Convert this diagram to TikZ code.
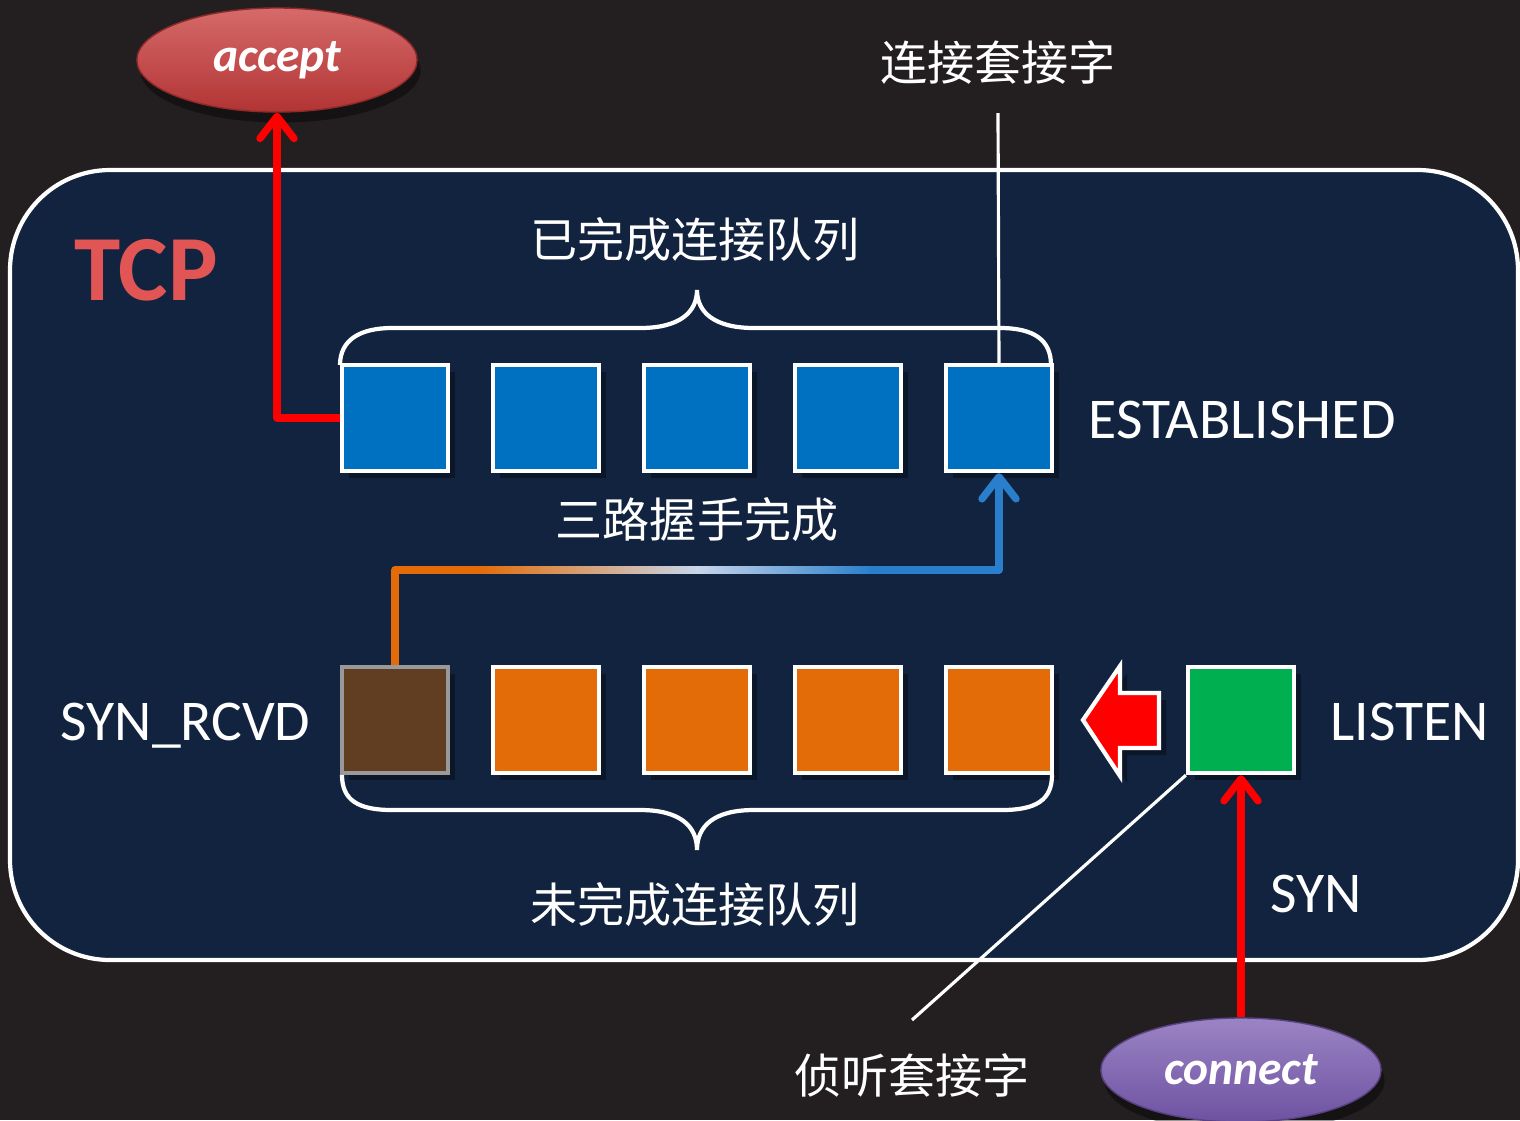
\documentclass[tikz,border=0pt]{standalone}
\usepackage{fontspec}
\setmainfont{Carlito}
\newfontfamily\cjk{Noto Sans CJK SC}
\usetikzlibrary{arrows.meta,shapes.geometric,shadows}
\definecolor{bgc}{HTML}{231F20}
\definecolor{boxc}{HTML}{11233F}
\definecolor{qblue}{HTML}{0070C0}
\definecolor{qorange}{HTML}{E36C09}
\definecolor{qbrown}{HTML}{613D22}
\definecolor{qgreen}{HTML}{00B050}
\definecolor{lineblue}{HTML}{2A7FCC}
\definecolor{midlight}{HTML}{C8D6EA}
\definecolor{tcpred}{HTML}{E25555}
\definecolor{acctop}{HTML}{D66A6A}
\definecolor{accbot}{HTML}{B23434}
\definecolor{contop}{HTML}{9B84C4}
\definecolor{conbot}{HTML}{6E52A2}
\tikzset{
  sq/.style={draw=white, line width=1.2pt, minimum size=1.06cm, inner sep=0pt,
             drop shadow={fill=black, opacity=0.35, shadow xshift=2pt, shadow yshift=-2pt}},
  lbl/.style={text=white, font=\fontsize{16.4}{18}\selectfont, inner sep=0pt},
  cjklbl/.style={text=white, font=\cjk\fontsize{13.4}{15}\selectfont, inner sep=0pt},
  brace/.style={draw=white, line width=1.2pt},
  thinw/.style={draw=white, line width=0.9pt},
  barb/.style={-{Straight Barb[length=0.22cm,width=0.34cm,line cap=round,line join=round]}},
  redarr/.style={draw=red, line width=2.1pt, line join=round, barb},
  blobarr/.style={line width=2.1pt},
  oval/.style={ellipse, minimum width=2.8cm, minimum height=1.04cm, inner sep=0pt,
     text=white, font=\bfseries\itshape\fontsize{13.5}{15}\selectfont,
     drop shadow={fill=black, opacity=0.4, shadow xshift=1pt, shadow yshift=-3pt}}
}
\begin{document}
\begin{tikzpicture}[x=0.01cm,y=-0.01cm]
\useasboundingbox (0,0) rectangle (1520,1120);
\fill[bgc] (0,0) rectangle (1520,1120);
% TCP box
\draw[white, line width=1.2pt, fill=boxc, rounded corners=1.0cm] (10,170) rectangle (1518,960);
\node[anchor=base west, inner sep=0pt, text=tcpred, font=\bfseries\fontsize{26.5}{29}\selectfont] (tcp) at (74,300) {TCP};
% ellipses
\node[oval, top color=acctop, bottom color=accbot, draw=accbot!80!black, line width=0.4pt] (accept) at (277,60) {accept};
\node[oval, top color=contop, bottom color=conbot, draw=conbot!80!black, line width=0.4pt] (connect) at (1241,1070) {connect};
% top queue
\foreach \i/\x in {1/395,2/546,3/697,4/848,5/999}{
  \node[sq, fill=qblue] (b\i) at (\x,418) {};
}
\node[sq, fill=qbrown, draw=gray!80] (o1) at (395,720) {};
\foreach \i/\x in {2/546,3/697,4/848,5/999}{
  \node[sq, fill=qorange] (o\i) at (\x,720) {};
}
\node[sq, fill=qgreen] (g) at (1241,720) {};
% braces
\draw[brace] (340,365) .. controls (340,340) and (360,328) .. (392,328) -- (640,328)
  .. controls (680,328) and (697,312) .. (697,290)
  .. controls (697,312) and (714,328) .. (754,328) -- (1000,328)
  .. controls (1034,328) and (1051,340) .. (1051,365);
\draw[brace] (342,775) .. controls (342,800) and (358,810) .. (392,810) -- (640,810)
  .. controls (680,810) and (697,826) .. (697,850)
  .. controls (697,826) and (714,810) .. (754,810) -- (1002,810)
  .. controls (1036,810) and (1052,800) .. (1052,775);
% labels
\node[cjklbl] (l1) at (695,240) {已完成连接队列};
\node[cjklbl] (l2) at (998,62) {连接套接字};
\node[cjklbl] (l3) at (697,520) {三路握手完成};
\node[cjklbl] (l4) at (695,905) {未完成连接队列};
\node[cjklbl] (l5) at (912,1075) {侦听套接字};
\node[lbl, anchor=base west] (est) at (1088,438) {ESTABLISHED};
\node[lbl, anchor=base west] (rcvd) at (60,740) {SYN\_RCVD};
\node[lbl, anchor=base west] (listen) at (1330,740) {LISTEN};
\node[lbl, anchor=base west] (syn) at (1270,912) {SYN};
% pointer lines
\coordinate (c1) at (998,113);
\draw[thinw] (c1) -- (b5.north);
\coordinate (c2) at (912,1020);
\draw[thinw] (c2) -- (g.south west);
% accept arrow
\coordinate (k1) at (277,418);
\draw[redarr] (b1.west) -- (k1) -- (accept.south);
% connect arrow
\draw[redarr] (connect.north) -- (g.south);
% handshake arrow
\coordinate (h1) at (395,570);
\coordinate (h2) at (480,570);
\coordinate (h4) at (870,570);
\coordinate (h5) at (999,570);
\shade[left color=qorange, right color=midlight] (479,566.3) rectangle (697,573.7);
\shade[left color=midlight, right color=lineblue] (697,566.3) rectangle (871,573.7);
\draw[qorange, blobarr, line join=round] (o1.north) -- (h1) -- (h2);
\draw[lineblue, blobarr, line join=round, barb] (h4) -- (h5) -- (b5.south);
% block arrow
\draw[white, line width=1.2pt, fill=red, line join=miter,
  drop shadow={fill=black, opacity=0.35, shadow xshift=2pt, shadow yshift=-2pt}]
  (1083,720) -- (1120,666) -- (1120,693) -- (1159,693) -- (1159,748) -- (1120,748) -- (1120,776) -- cycle;
\end{tikzpicture}
\end{document}
